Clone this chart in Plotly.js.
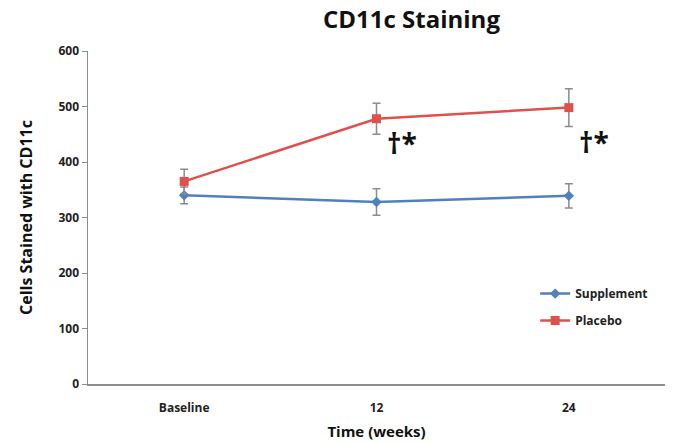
<!DOCTYPE html>
<html>
<head>
<meta charset="utf-8">
<script src="https://cdn.plot.ly/plotly-3.0.1.min.js"></script>
<style>html,body{margin:0;padding:0;background:#fff;}#chart{width:674px;height:442px;}</style>
</head>
<body>
<div id="chart"></div>
<script>
const categories = ["Baseline", "12", "24"];
const supplementValues = [340, 328, 339];
const supplementErrors = [15, 24, 22];
const placeboValues = [365, 478, 498];
const placeboErrors = [22, 28, 34];
const yTicks = [0, 100, 200, 300, 400, 500, 600];
const markLabels = ["12", "24"];
const markValues = [434, 436];
const markText = "†*";

const font = '"Open Sans", "DejaVu Sans", sans-serif';

const traces = [
  {
    x: categories, y: supplementValues, name: "Supplement", type: "scatter", mode: "lines+markers",
    legendgroup: "s",
    line: {color: "#4F81BD", width: 2.5},
    marker: {symbol: "diamond", size: 8, color: "#4F81BD"},
    error_y: {type: "data", array: supplementErrors, color: "#8c8c8c", thickness: 1.5, width: 4}
  },
  {
    x: categories, y: placeboValues, name: "Placebo", type: "scatter", mode: "lines+markers",
    legendgroup: "p",
    line: {color: "#E0504C", width: 2.5},
    marker: {symbol: "square", size: 9, color: "#E0504C"},
    error_y: {type: "data", array: placeboErrors, color: "#8c8c8c", thickness: 1.5, width: 4}
  }
];

const annotations = markLabels.map((c, i) => ({
  x: categories.indexOf(c), y: markValues[i], xref: "x", yref: "y", text: "<b>" + markText + "</b>", showarrow: false,
  xshift: 25, font: {family: font, size: 28, color: "#111"}
}));

const layout = {
  width: 674, height: 442,
  margin: {l: 88, r: 9, t: 51, b: 58},
  paper_bgcolor: "#fff", plot_bgcolor: "#fff",
  title: {text: "<b>CD11c Staining</b>", x: 0.6105, xanchor: "center", y: 0.955, yanchor: "middle",
          font: {family: font, size: 24, color: "#111"}},
  xaxis: {
    type: "category", range: [-0.5, 2.5], showgrid: false, zeroline: false,
    showline: true, linecolor: "#8c8c8c", linewidth: 1.5, ticks: "",
    ticklabelstandoff: 12,
    tickfont: {family: font, size: 12, color: "#222", weight: "bold"},
    title: {text: "<b>Time (weeks)</b>", standoff: 11, font: {family: font, size: 15, color: "#111"}}
  },
  yaxis: {
    range: [0, 600], tickvals: yTicks, showgrid: false, zeroline: false,
    showline: true, linecolor: "#8c8c8c", linewidth: 1.5,
    ticks: "outside", ticklen: 5, tickcolor: "#8c8c8c",
    tickfont: {family: font, size: 12, color: "#222", weight: "bold"},
    title: {text: "<b>Cells Stained with CD11c</b>", standoff: 22, font: {family: font, size: 16, color: "#111"}}
  },
  legend: {x: 0.775, y: 0.315, xanchor: "left", yanchor: "top", bgcolor: "rgba(0,0,0,0)",
           font: {family: font, size: 12, color: "#222", weight: "bold"}, tracegroupgap: 8, itemwidth: 30},
  showlegend: true,
  annotations: annotations
};

Plotly.newPlot("chart", traces, layout, {displayModeBar: false, staticPlot: true});
</script>
</body>
</html>
